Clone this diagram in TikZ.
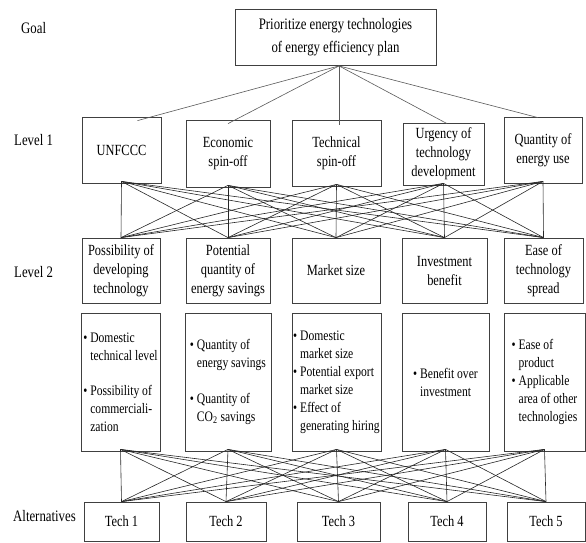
\documentclass[tikz,border=0pt]{standalone}
\usepackage{fontspec}
\setmainfont{Liberation Serif}[FakeStretch=0.8]
\usetikzlibrary{calc}
% bullet and hanging indent for the criteria lists
\newcommand\critbul{\textbullet\ }
\newcommand\critind{\hphantom{\textbullet\ }}
\begin{document}
\begin{tikzpicture}[x=1pt,y=-1pt,
  box/.style={draw=black!75, line width=0.8pt, inner sep=0pt, align=center,
              font=\fontsize{15.5}{19}\selectfont},
  critbox/.style={box, align=left, minimum height=138, font=\fontsize{14.5}{18}\selectfont},
  techbox/.style={box, minimum height=39},
  link/.style={draw=black!85, line width=0.6pt},
  lab/.style={anchor=west, inner sep=0pt, font=\fontsize{16}{19}\selectfont}]
\useasboundingbox (0,0) rectangle (586,542);

% level labels
\node[lab] (lgoal) at (21,28) {Goal};
\node[lab] (lone) at (14,140) {Level 1};
\node[lab] (ltwo) at (14,272) {Level 2};
\node[lab] (lalt) at (13,516) {Alternatives};

% goal
\node[box, minimum width=201, minimum height=56, font=\fontsize{16}{23}\selectfont] (goal) at (335.5,37.5)
  {Prioritize energy technologies\\of energy efficiency plan};

% level 1
\node[box, minimum width=79, minimum height=66] (l1a) at (121.5,150) {UNFCCC};
\node[box, minimum width=84, minimum height=67] (l1b) at (228,153.5) {Economic\\spin-off};
\node[box, minimum width=89, minimum height=66] (l1c) at (336.5,153) {Technical\\spin-off};
\node[box, minimum width=81, minimum height=62] (l1d) at (443.5,154) {Urgency of\\technology\\development};
\node[box, minimum width=78, minimum height=66] (l1e) at (543,150) {Quantity of\\energy use};

% level 2
\node[box, minimum width=78, minimum height=65] (l2a) at (121,270.5) {Possibility of\\developing\\technology};
\node[box, minimum width=84, minimum height=65] (l2b) at (228,270.5) {Potential\\quantity of\\energy savings};
\node[box, minimum width=88, minimum height=65] (l2c) at (336,270.5) {Market size};
\node[box, minimum width=85, minimum height=65] (l2d) at (444.5,270.5) {Investment\\benefit};
\node[box, minimum width=79, minimum height=65] (l2e) at (543.5,270.5) {Ease of\\technology\\spread};

% criteria under level 2
\node[critbox, minimum width=79] (c1) at (120.5,382)
  {\critbul Domestic\\\critind technical level\\[17pt]\critbul Possibility of\\\critind commerciali-\\\critind zation};
\node[critbox, minimum width=86] (c2) at (228,382)
  {\critbul Quantity of\\\critind energy savings\\[18pt]\critbul Quantity of\\\critind CO\textsubscript{2} savings};
\node[critbox, minimum width=89] (c3) at (336.5,382)
  {\critbul Domestic\\\critind market size\\\critbul Potential export\\\critind market size\\\critbul Effect of\\\critind generating hiring};
\node[critbox, minimum width=87] (c4) at (445.5,382)
  {\critbul Benefit over\\\critind investment};
\node[critbox, minimum width=81] (c5) at (544.5,382)
  {\critbul Ease of\\\critind product\\\critbul Applicable\\\critind area of other\\\critind technologies};

% alternatives
\node[techbox, minimum width=75] (t1) at (121.5,521.5) {Tech 1};
\node[techbox, minimum width=80] (t2) at (226,521.5) {Tech 2};
\node[techbox, minimum width=83] (t3) at (338.5,521.5) {Tech 3};
\node[techbox, minimum width=78] (t4) at (447,521.5) {Tech 4};
\node[techbox, minimum width=78] (t5) at (546,521.5) {Tech 5};

% goal to level 1
\coordinate (gs) at ([xshift=3.5]goal.south);
\draw[link, draw=black!65] (gs) -- ([xshift=16,yshift=-4]l1a.north);
\draw[link, draw=black!65] (gs) -- ([yshift=-4]l1b.north);
\draw[link, draw=black!65] (gs) -- ([xshift=2.5,yshift=-5]l1c.north);
\draw[link, draw=black!65] (gs) -- ([xshift=3.5,yshift=-1]l1d.north);
\draw[link, draw=black!65] (gs) -- ([xshift=-5,yshift=-1]l1e.north);

% level 1 to level 2: every pair
\foreach \a in {l1a,l1b,l1c,l1d,l1e}
  \foreach \b in {l2a,l2b,l2c,l2d,l2e}
    \draw[link] ([yshift=2]\a.south) -- (\b.north);

% criteria to alternatives: every pair
\foreach \a in {c1,c2,c3,c4,c5}
  \foreach \b in {t1,t2,t3,t4,t5}
    \draw[link] ([yshift=2]\a.south) -- (\b.north);
\end{tikzpicture}
\end{document}
